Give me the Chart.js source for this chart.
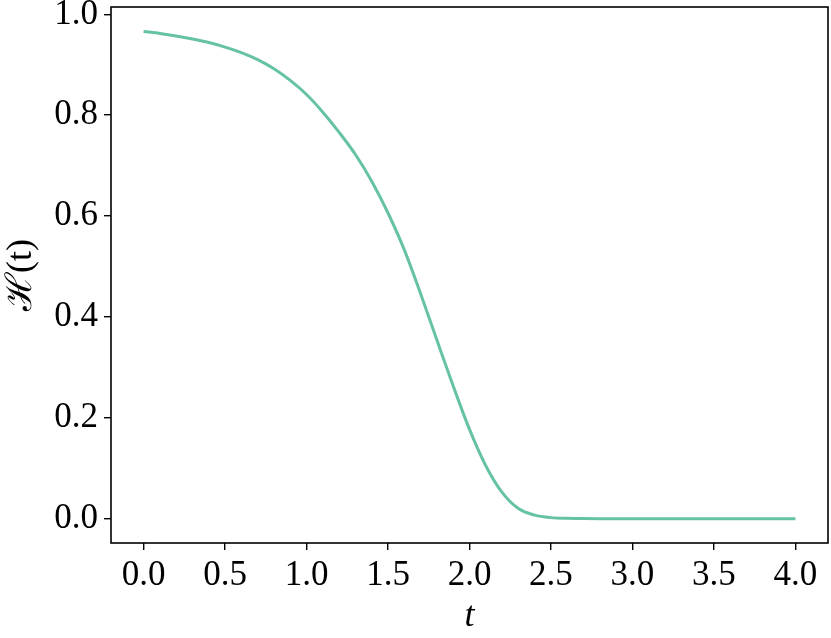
<!DOCTYPE html>
<html>
<head>
<meta charset="utf-8">
<script src="https://cdn.jsdelivr.net/npm/chart.js@4"></script>
<style>
  html, body { margin: 0; padding: 0; background: #fff; }
  #wrap { width: 831px; height: 638px; }
</style>
</head>
<body>
<div id="wrap"><canvas id="c" width="831" height="638"></canvas></div>
<script>
const tValues = [0.0,0.1,0.2,0.3,0.4,0.5,0.6,0.7,0.8,0.9,1.0,1.1,1.2,1.3,1.4,1.5,1.6,1.7,1.8,1.9,2.0,2.1,2.2,2.3,2.4,2.5,2.6,2.7,2.8,2.9,3.0,3.1,3.2,3.3,3.4,3.5,3.6,3.7,3.8,3.9,4.0];
const hValues = [0.966,0.962,0.957,0.951,0.944,0.935,0.924,0.910,0.892,0.869,0.841,0.806,0.766,0.722,0.669,0.606,0.533,0.446,0.354,0.263,0.177,0.105,0.052,0.020,0.007,0.002,0.0006,0.0002,0,0,0,0,0,0,0,0,0,0,0,0,0];
const xTicks = [0.0,0.5,1.0,1.5,2.0,2.5,3.0,3.5,4.0];
const yTicks = [0.0,0.2,0.4,0.6,0.8,1.0];
const xLabel = 't';
const yLabel = 'ℋ(t)';

const FONT = '"Liberation Serif", "DejaVu Serif", serif';

const framePlugin = {
  id: 'frame',
  afterDraw(chart) {
    const a = chart.chartArea, ctx = chart.ctx;
    ctx.save();
    ctx.strokeStyle = '#000';
    ctx.lineWidth = 1.6;
    ctx.strokeRect(a.left, a.top, a.right - a.left, a.bottom - a.top);
    ctx.restore();
  }
};

new Chart(document.getElementById('c'), {
  type: 'line',
  data: {
    datasets: [{
      data: tValues.map((t, i) => ({ x: t, y: hValues[i] })),
      borderColor: '#66c2a5',
      borderWidth: 3,
      pointRadius: 0,
      cubicInterpolationMode: 'monotone',
      fill: false
    }]
  },
  options: {
    responsive: false,
    animation: false,
    layout: { padding: { left: 0, right: 3, top: 7, bottom: 0 } },
    plugins: { legend: { display: false }, tooltip: { enabled: false } },
    scales: {
      x: {
        type: 'linear',
        min: -0.2, max: 4.2,
        afterBuildTicks(s) { s.ticks = xTicks.map(v => ({ value: v })); },
        afterFit(s) { s.height = 95; s.paddingLeft = 0; s.paddingRight = 0; },
        grid: { drawOnChartArea: false, drawTicks: true, tickLength: 7, color: '#000', lineWidth: 1.4 },
        border: { display: false },
        ticks: {
          color: '#000', padding: 5, maxRotation: 0, autoSkip: false,
          font: { family: FONT, size: 35 },
          callback: v => Number(v).toFixed(1)
        },
        title: { display: true, text: xLabel, color: '#000', padding: { top: 0, bottom: 0 },
                 font: { family: FONT, size: 36, style: 'italic' } }
      },
      y: {
        type: 'linear',
        min: -0.0483, max: 1.0145,
        afterBuildTicks(s) { s.ticks = yTicks.map(v => ({ value: v })); },
        afterFit(s) { s.width = 111; s.paddingTop = 0; s.paddingBottom = 0; },
        grid: { drawOnChartArea: false, drawTicks: true, tickLength: 7, color: '#000', lineWidth: 1.4 },
        border: { display: false },
        ticks: {
          color: '#000', padding: 6, autoSkip: false,
          font: { family: FONT, size: 35 },
          callback: v => Number(v).toFixed(1)
        },
        title: { display: true, text: yLabel, color: '#000', padding: { top: 0, bottom: 0 },
                 font: { family: FONT, size: 36 } }
      }
    }
  },
  plugins: [framePlugin]
});
</script>
</body>
</html>
